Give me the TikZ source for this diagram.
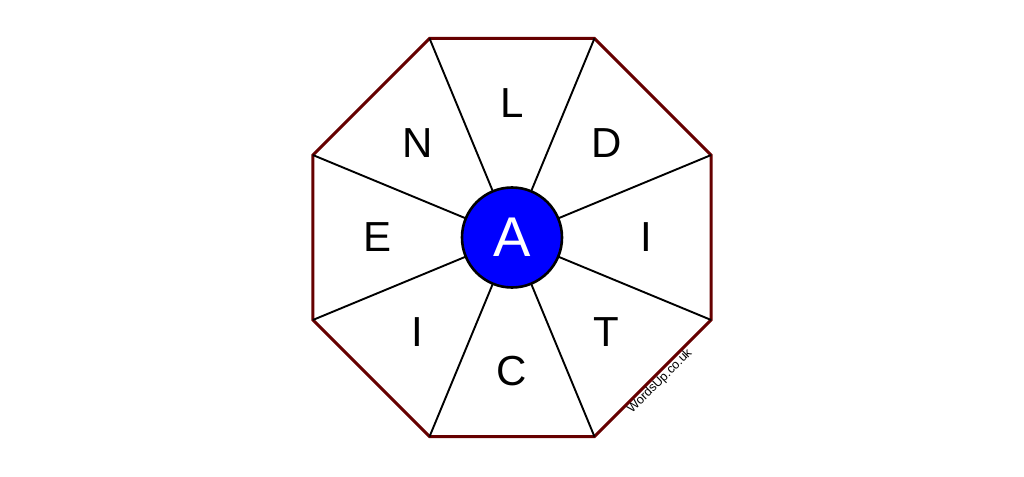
\documentclass[tikz,border=0pt]{standalone}
\usepackage{fontspec}
\setmainfont{Liberation Sans}
\usepackage{tikz}
\definecolor{rimred}{HTML}{660000}
\definecolor{hubblue}{HTML}{0000FF}
\tikzset{
    rim/.style = {draw=rimred,line width=3pt,line join=miter},
    spoke/.style = {draw=black,line width=1.9pt},
    hub/.style = {circle,draw=black,line width=2.6pt,fill=hubblue,minimum size=100pt,inner sep=0,
        text=white,font=\fontsize{56}{56}\selectfont},
    letter/.style = {font=\fontsize{42}{42}\selectfont,inner sep=0},
    wmtext/.style = {font=\fontsize{12.5}{12.5}\selectfont,rotate=45,inner sep=0}
}

\begin{document}
\begin{tikzpicture}[x=1pt,y=1pt]
    \useasboundingbox (-512,-238.5) rectangle (512,237.5);
    \newcommand*\rimrad{215.5}
    \newcommand*\letrad{134}
    % Corners
    \foreach \i in {1,...,8}
        \coordinate (v\i) at ({22.5+45*(\i-1)}:\rimrad);
    % Rim
    \draw[rim] (v1) -- (v2) -- (v3) -- (v4) -- (v5) -- (v6) -- (v7) -- (v8) -- cycle;
    % Spokes
    \coordinate (O) at (0,0);
    \foreach \i in {1,...,8}
        \draw[spoke] (O) -- (v\i);
    % Hub
    \node[hub] (hub) at (O) {A};
    % Letters
    \foreach \ang/\txt/\nm in {90/L/lN,45/D/lNE,0/I/lE,-45/T/lSE,-90/C/lS,-135/I/lSW,180/E/lW,135/N/lNW}
        \node[letter] (\nm) at (\ang:\letrad) {\txt};
    % Watermark
    \node[wmtext] (wm) at (148,-144) {WordsUp.co.uk};
\end{tikzpicture}
\end{document}
